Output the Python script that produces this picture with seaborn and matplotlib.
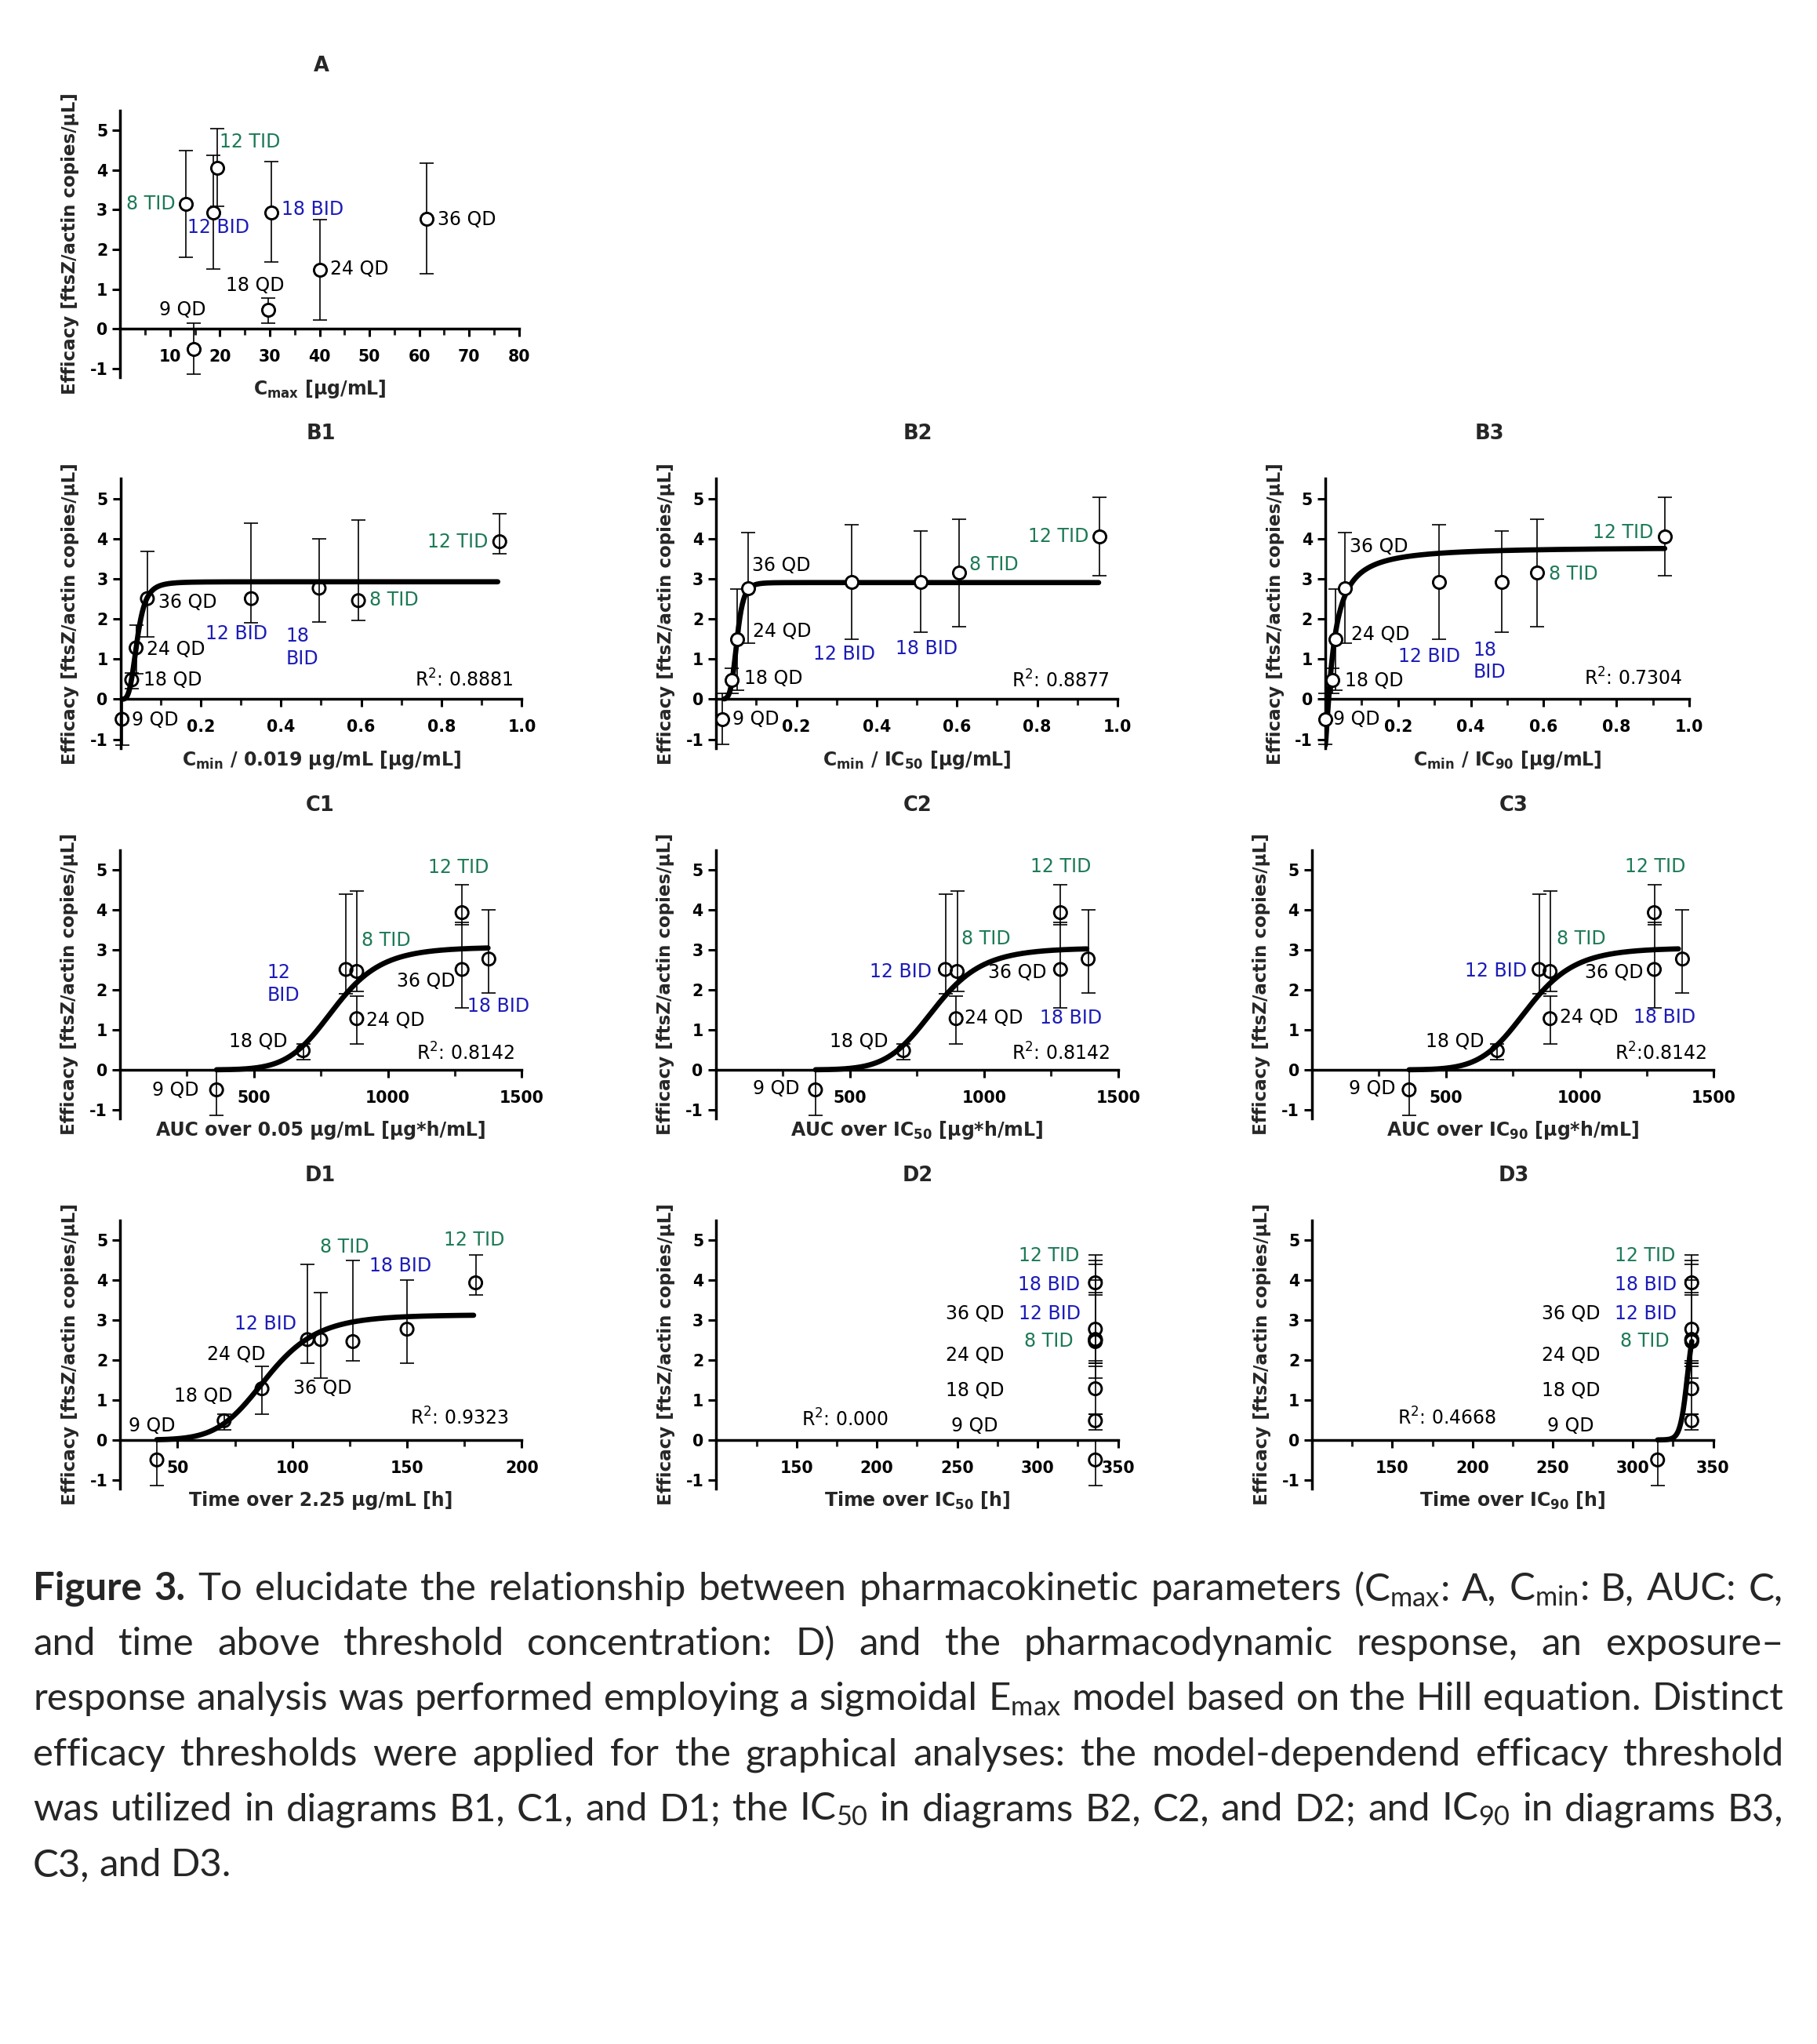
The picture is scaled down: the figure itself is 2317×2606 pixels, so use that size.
import numpy as np
import pandas as pd
import matplotlib
matplotlib.use("Agg")
import matplotlib.pyplot as plt
import seaborn as sns

# --- data ---
GROUPS = ["9 QD", "18 QD", "24 QD", "36 QD", "12 BID", "18 BID", "8 TID", "12 TID"]

# efficacy (mean, lower / upper end of error bar); panels A, B2, B3 use set 1
EFF_1 = [-0.50, 0.47, 1.49, 2.77, 2.93, 2.93, 3.15, 4.05]
EFF_1_LO = [-1.13, 0.14, 0.23, 1.39, 1.50, 1.68, 1.81, 3.09]
EFF_1_HI = [0.14, 0.77, 2.74, 4.16, 4.36, 4.20, 4.49, 5.03]
# panels B1, C1-C3, D1-D3 use set 2
EFF_2 = [-0.50, 0.48, 1.28, 2.51, 2.51, 2.77, 2.46, 3.93]
EFF_2_LO = [-1.14, 0.26, 0.64, 1.55, 1.91, 1.92, 1.97, 3.63]
EFF_2_HI = [0.00, 0.65, 1.84, 3.68, 4.39, 4.00, 4.48, 4.62]

X_A = [14.7, 29.7, 40.1, 61.5, 18.7, 30.4, 13.2, 19.5]
X_B1 = [0.004, 0.028, 0.039, 0.067, 0.326, 0.495, 0.593, 0.945]
X_B2 = [0.016, 0.039, 0.052, 0.079, 0.337, 0.509, 0.606, 0.955]
X_B3 = [0.000, 0.019, 0.027, 0.054, 0.312, 0.484, 0.583, 0.933]
X_C1 = [361, 684, 884, 1277, 844, 1377, 884, 1277]
X_C2 = [372, 700, 896, 1285, 856, 1388, 900, 1285]
X_C3 = [363, 692, 889, 1278, 848, 1383, 889, 1278]
X_D1 = [41.0, 70.3, 86.8, 112.4, 106.6, 150.0, 126.4, 179.9]
X_D2 = [336.0, 336.0, 336.0, 336.0, 336.0, 336.0, 336.0, 336.0]
X_D3 = [315.4, 336.7, 336.7, 336.7, 336.7, 336.7, 336.7, 336.7]

# sigmoidal Emax (Hill) fits: bottom, top, EC50, slope, x from, x to
FIT_B1 = (0.0, 2.93, 0.0415, 3.9, 0.004, 0.940)
FIT_B2 = (0.0, 2.91, 0.0515, 6.3, 0.020, 0.953)
FIT_B3 = (-1.15, 3.80, 0.0228, 1.3, 0.000, 0.933)
FIT_C1 = (0.0, 3.07, 800, 9.0, 361, 1374)
FIT_C2 = (0.0, 3.05, 815, 9.0, 372, 1383)
FIT_C3 = (0.0, 3.05, 805, 9.0, 363, 1368)
FIT_D1 = (0.0, 3.13, 89, 8.0, 41, 179)
FIT_D3 = (0.0, 3.20, 334, 150, 315.4, 336.7)

R2_VALUES = {"B1": "0.8881", "B2": "0.8877", "B3": "0.7304", "C1": "0.8142",
             "C2": "0.8142", "C3": "0.8142", "D1": "0.9323", "D2": "0.000", "D3": "0.4668"}

# --- annotation placement (data coords) ---
LABELS = {
    "A": [("12 TID", 19.9, 4.71, "left"), ("8 TID", 11.0, 3.14, "right"), ("12 BID", 13.5, 2.55, "left"),
          ("18 BID", 32.4, 3.01, "left"), ("36 QD", 63.7, 2.75, "left"), ("24 QD", 42.2, 1.50, "left"),
          ("18 QD", 21.2, 1.10, "left"), ("9 QD", 7.8, 0.48, "left")],
    "B1": [("36 QD", 0.094, 2.41, "left"), ("24 QD", 0.065, 1.25, "left"), ("18 QD", 0.057, 0.48, "left"),
           ("9 QD", 0.029, -0.51, "left"), ("12 BID", 0.211, 1.63, "left"), ("18\nBID", 0.412, 1.29, "left"),
           ("8 TID", 0.620, 2.48, "left"), ("12 TID", 0.915, 3.93, "right")],
    "B2": [("36 QD", 0.089, 3.34, "left"), ("24 QD", 0.092, 1.69, "left"), ("18 QD", 0.069, 0.52, "left"),
           ("9 QD", 0.040, -0.50, "left"), ("12 BID", 0.241, 1.12, "left"), ("18 BID", 0.446, 1.26, "left"),
           ("8 TID", 0.631, 3.35, "left"), ("12 TID", 0.929, 4.06, "right")],
    "B3": [("36 QD", 0.066, 3.81, "left"), ("24 QD", 0.071, 1.62, "left"), ("18 QD", 0.054, 0.46, "left"),
           ("9 QD", 0.021, -0.50, "left"), ("12 BID", 0.200, 1.07, "left"), ("18\nBID", 0.407, 0.95, "left"),
           ("8 TID", 0.614, 3.12, "left"), ("12 TID", 0.901, 4.15, "right")],
    "C1": [("12\nBID", 549, 2.14, "left"), ("8 TID", 902, 3.23, "left"), ("36 QD", 1252, 2.22, "right"),
           ("18 BID", 1298, 1.59, "left"), ("24 QD", 918, 1.24, "left"), ("18 QD", 625, 0.70, "right"),
           ("9 QD", 296, -0.51, "right"), ("12 TID", 1151, 5.06, "left")],
    "C2": [("12 BID", 804, 2.46, "right"), ("8 TID", 915, 3.27, "left"), ("36 QD", 1234, 2.43, "right"),
           ("24 QD", 927, 1.30, "left"), ("18 BID", 1209, 1.30, "left"), ("18 QD", 642, 0.70, "right"),
           ("9 QD", 313, -0.48, "right"), ("12 TID", 1172, 5.08, "left")],
    "C3": [("12 BID", 803, 2.48, "right"), ("8 TID", 914, 3.28, "left"), ("36 QD", 1237, 2.43, "right"),
           ("24 QD", 926, 1.32, "left"), ("18 BID", 1200, 1.32, "left"), ("18 QD", 644, 0.70, "right"),
           ("9 QD", 312, -0.48, "right"), ("12 TID", 1169, 5.08, "left")],
    "D1": [("9 QD", 28.7, 0.35, "left"), ("18 QD", 48.6, 1.10, "left"), ("24 QD", 62.9, 2.14, "left"),
           ("12 BID", 74.7, 2.90, "left"), ("36 QD", 100.3, 1.29, "left"), ("8 TID", 112.0, 4.82, "left"),
           ("18 BID", 133.6, 4.35, "left"), ("12 TID", 166.0, 5.00, "left")],
    "D2": [("12 TID", 326.2, 4.60, "right"), ("18 BID", 326.6, 3.88, "right"), ("12 BID", 326.6, 3.16, "right"),
           ("8 TID", 322.0, 2.47, "right"), ("36 QD", 279.0, 3.16, "right"), ("24 QD", 279.0, 2.11, "right"),
           ("18 QD", 279.0, 1.24, "right"), ("9 QD", 275.4, 0.35, "right")],
    "D3": [("12 TID", 326.3, 4.60, "right"), ("18 BID", 327.3, 3.88, "right"), ("12 BID", 327.3, 3.16, "right"),
           ("8 TID", 322.8, 2.47, "right"), ("36 QD", 279.5, 3.16, "right"), ("24 QD", 279.5, 2.11, "right"),
           ("18 QD", 279.5, 1.24, "right"), ("9 QD", 275.6, 0.35, "right")],
}
R2_POS = {"B1": (0.978, 0.48, "right"), "B2": (0.98, 0.46, "right"), "B3": (0.98, 0.51, "right"),
          "C1": (1473, 0.41, "right"), "C2": (1469, 0.41, "right"), "C3": (1473, 0.41, "right"),
          "D1": (194.3, 0.54, "right"), "D2": (153.0, 0.51, "left"), "D3": (153.3, 0.54, "left")}

B_TICKS = ([0.2, 0.4, 0.6, 0.8, 1.0], ["0.2", "0.4", "0.6", "0.8", "1.0"], [0.1, 0.3, 0.5, 0.7, 0.9])
C_TICKS = ([500, 1000, 1500], ["500", "1000", "1500"], [250, 750, 1250])
D_TICKS = ([150, 200, 250, 300, 350], ["150", "200", "250", "300", "350"], [125, 175, 225, 275, 325])

# --- layout (figure pixels) ---
W, H = 2317, 2606
ROWS = {"A": (140.6, 481.1), "B": (610.4, 953.8), "C": (1083.5, 1426.2), "D": (1555.5, 1898.0)}
YLIM = (-1.22, 5.5)
GREEN = "#1d7a56"
BLUE = "#1c1cb8"

PANELS = [
    dict(name="A", row="A", lr=(153.2, 661.8), title_x=410, xlim=(0, 80),
         ticks=([10, 20, 30, 40, 50, 60, 70, 80], [str(v) for v in range(10, 90, 10)], [5, 15, 25, 35, 45, 55, 65, 75]),
         x=X_A, eff=1, fit=None, fill="white", xlabel="C$_{max}$ [µg/mL]"),
    dict(name="B1", row="B", lr=(153.6, 665.4), title_x=409, xlim=(0, 1.0), ticks=B_TICKS,
         x=X_B1, eff=2, fit=FIT_B1, fill="none", xlabel="C$_{min}$ / 0.019 µg/mL [µg/mL]"),
    dict(name="B2", row="B", lr=(913.3, 1425.0), title_x=1170, xlim=(0, 1.0), ticks=B_TICKS,
         x=X_B2, eff=1, fit=FIT_B2, fill="white", xlabel="C$_{min}$ / IC$_{50}$ [µg/mL]"),
    dict(name="B3", row="B", lr=(1690.0, 2153.9), title_x=1899, xlim=(0, 1.0), ticks=B_TICKS,
         x=X_B3, eff=1, fit=FIT_B3, fill="white", xlabel="C$_{min}$ / IC$_{90}$ [µg/mL]"),
    dict(name="C1", row="C", lr=(152.8, 665.4), title_x=408, xlim=(0, 1500), ticks=C_TICKS,
         x=X_C1, eff=2, fit=FIT_C1, fill="none", xlabel="AUC over 0.05 µg/mL [µg*h/mL]"),
    dict(name="C2", row="C", lr=(912.6, 1425.9), title_x=1170, xlim=(0, 1500), ticks=C_TICKS,
         x=X_C2, eff=2, fit=FIT_C2, fill="none", xlabel="AUC over IC$_{50}$ [µg*h/mL]"),
    dict(name="C3", row="C", lr=(1672.8, 2185.4), title_x=1930, xlim=(0, 1500), ticks=C_TICKS,
         x=X_C3, eff=2, fit=FIT_C3, fill="none", xlabel="AUC over IC$_{90}$ [µg*h/mL]"),
    dict(name="D1", row="D", lr=(153.2, 665.4), title_x=408, xlim=(25, 200),
         ticks=([50, 100, 150, 200], ["50", "100", "150", "200"], [75, 125, 175]),
         x=X_D1, eff=2, fit=FIT_D1, fill="none", xlabel="Time over 2.25 µg/mL [h]"),
    dict(name="D2", row="D", lr=(913.3, 1425.5), title_x=1170, xlim=(100, 350), ticks=D_TICKS,
         x=X_D2, eff=2, fit=None, fill="none", xlabel="Time over IC$_{50}$ [h]"),
    dict(name="D3", row="D", lr=(1673.2, 2184.5), title_x=1930, xlim=(100, 350), ticks=D_TICKS,
         x=X_D3, eff=2, fit=FIT_D3, fill="none", xlabel="Time over IC$_{90}$ [h]"),
]

CAPTION = [
    "Figure 3. To elucidate the relationship between pharmacokinetic parameters (C$_{max}$: A, C$_{min}$: B, AUC: C,",
    "and time above threshold concentration: D) and the pharmacodynamic response, an exposure–",
    "response analysis was performed employing a sigmoidal E$_{max}$ model based on the Hill equation. Distinct",
    "efficacy thresholds were applied for the graphical analyses: the model-dependend efficacy threshold",
    "was utilized in diagrams B1, C1, and D1; the IC$_{50}$ in diagrams B2, C2, and D2; and IC$_{90}$ in diagrams B3,",
    "C3, and D3.",
]
CAPTION_BASELINES = [2040, 2110, 2180, 2251, 2321, 2392]
CAPTION_LEFT, CAPTION_RIGHT = 42, 2274

TICK_FS = 14.8
LABEL_FS = 17
AXLABEL_FS = 17
YLABEL_FS = 16.6
TITLE_FS = 18.5

sns.set_style("ticks")
plt.rcParams["font.family"] = ["DejaVu Sans"]
plt.rcParams["mathtext.default"] = "regular"


def hill(x, bottom, top, ec50, n):
    r = (x / ec50) ** n
    return bottom + (top - bottom) * r / (1.0 + r)


def label_color(txt):
    if "TID" in txt:
        return GREEN
    if "BID" in txt:
        return BLUE
    return "black"


fig = plt.figure(figsize=(W / 100, H / 100), dpi=100)
fig.patch.set_facecolor("white")

for p in PANELS:
    top, bot = ROWS[p["row"]]
    l, r = p["lr"]
    ax = fig.add_axes([l / W, 1 - bot / H, (r - l) / W, (bot - top) / H])
    ax.set_facecolor("none")
    width_px = r - l
    height_px = bot - top

    if p["eff"] == 1:
        eff, lo, hi = EFF_1, EFF_1_LO, EFF_1_HI
    else:
        eff, lo, hi = EFF_2, EFF_2_LO, EFF_2_HI
    df = pd.DataFrame({"group": GROUPS, "x": p["x"], "eff": eff, "lo": lo, "hi": hi})

    eb = ax.errorbar(df["x"], df["eff"], yerr=[df["eff"] - df["lo"], df["hi"] - df["eff"]],
                     fmt="none", ecolor="black", elinewidth=1.2, capsize=6.3, capthick=1.2, zorder=2)
    for art in eb.get_children():
        art.set_clip_on(False)

    if p["fit"] is not None:
        b0, t0, ec50, n, x0, x1 = p["fit"]
        xs = np.linspace(x0, x1, 600)
        curve = pd.DataFrame({"x": xs, "y": hill(xs, b0, t0, ec50, n)})
        sns.lineplot(data=curve, x="x", y="y", ax=ax, color="black", linewidth=4.8,
                     estimator=None, sort=False, zorder=3)

    sns.scatterplot(data=df, x="x", y="eff", ax=ax, marker="o", s=135, facecolor=p["fill"],
                    edgecolor="black", linewidth=2.1, zorder=4, clip_on=False, legend=False)

    # spine position first: moving a spine resets the tick objects
    ax.spines["top"].set_visible(False)
    ax.spines["right"].set_visible(False)
    ax.spines["bottom"].set_position(("data", 0))
    for side in ("left", "bottom"):
        ax.spines[side].set_linewidth(2.5)
        ax.spines[side].set_color("black")

    ax.set_xlim(*p["xlim"])
    ax.set_ylim(*YLIM)
    major, major_lbl, minor = p["ticks"]
    ax.set_xticks(major)
    ax.set_xticklabels(major_lbl, fontweight="bold")
    ax.set_xticks(minor, minor=True)
    ax.set_yticks([-1, 0, 1, 2, 3, 4, 5])
    ax.set_yticklabels(["-1", "0", "1", "2", "3", "4", "5"], fontweight="bold")
    ax.tick_params(axis="x", which="major", direction="out", length=7.5, width=2.2, pad=11,
                   colors="black", labelsize=TICK_FS)
    ax.tick_params(axis="x", which="minor", direction="out", length=6, width=2.2)
    ax.tick_params(axis="y", which="major", direction="out", length=7.5, width=2.2, pad=4,
                   colors="black", labelsize=TICK_FS)
    ax.set_xlabel("")
    ax.set_ylabel("")

    ax.text((p["title_x"] - l) / width_px, 1 + 57 / height_px, p["name"], transform=ax.transAxes,
            ha="center", va="center", fontsize=TITLE_FS, fontweight="bold")
    ax.text(0.5, -15 / height_px, p["xlabel"], transform=ax.transAxes, ha="center", va="center",
            fontsize=AXLABEL_FS, fontweight="bold")
    ax.text(-64 / width_px, 0.5, "Efficacy [ftsZ/actin copies/µL]", transform=ax.transAxes,
            rotation=90, ha="center", va="center", fontsize=YLABEL_FS, fontweight="bold")

    for txt, tx, ty, ha in LABELS[p["name"]]:
        ax.text(tx, ty, txt, ha=ha, va="center", fontsize=LABEL_FS, color=label_color(txt),
                linespacing=1.25, clip_on=False, zorder=5)
    if p["name"] in R2_POS:
        rx, ry, rha = R2_POS[p["name"]]
        sep = "" if p["name"] == "C3" else " "
        ax.text(rx, ry, "R$^2$:" + sep + R2_VALUES[p["name"]], ha=rha, va="center",
                fontsize=LABEL_FS, color="black", zorder=5)

# --- justified caption ---
renderer = fig.canvas.get_renderer()
cap_font = ["Lato", "DejaVu Sans"]
cap_fs = 26
line_words = []
for i, line in enumerate(CAPTION):
    words = line.split(" ")
    arts = []
    for j, w in enumerate(words):
        bold = i == 0 and j < 2
        arts.append(fig.text(0, 1 - CAPTION_BASELINES[i] / H, w, fontsize=cap_fs, family=cap_font,
                             fontweight="bold" if bold else "normal", va="baseline", ha="left"))
    line_words.append(arts)

space_px = 0.24 * cap_fs * 100 / 72
avail = CAPTION_RIGHT - CAPTION_LEFT
natural = []
for arts in line_words[:-1]:
    wsum = sum(a.get_window_extent(renderer).width for a in arts)
    natural.append(wsum + space_px * (len(arts) - 1))
# size the text so the tightest justified line just fits
scale = avail * 0.99 / max(natural)
cap_fs *= scale
space_px *= scale
for arts in line_words:
    for a in arts:
        a.set_fontsize(cap_fs)

for i, arts in enumerate(line_words):
    widths = [a.get_window_extent(renderer).width for a in arts]
    if i < len(line_words) - 1:
        gap = (avail - sum(widths)) / (len(arts) - 1)
    else:
        gap = space_px
    xpos = CAPTION_LEFT
    for a, w in zip(arts, widths):
        a.set_x(xpos / W)
        xpos += w + gap

fig.savefig("out.png", dpi=100, facecolor="white")
